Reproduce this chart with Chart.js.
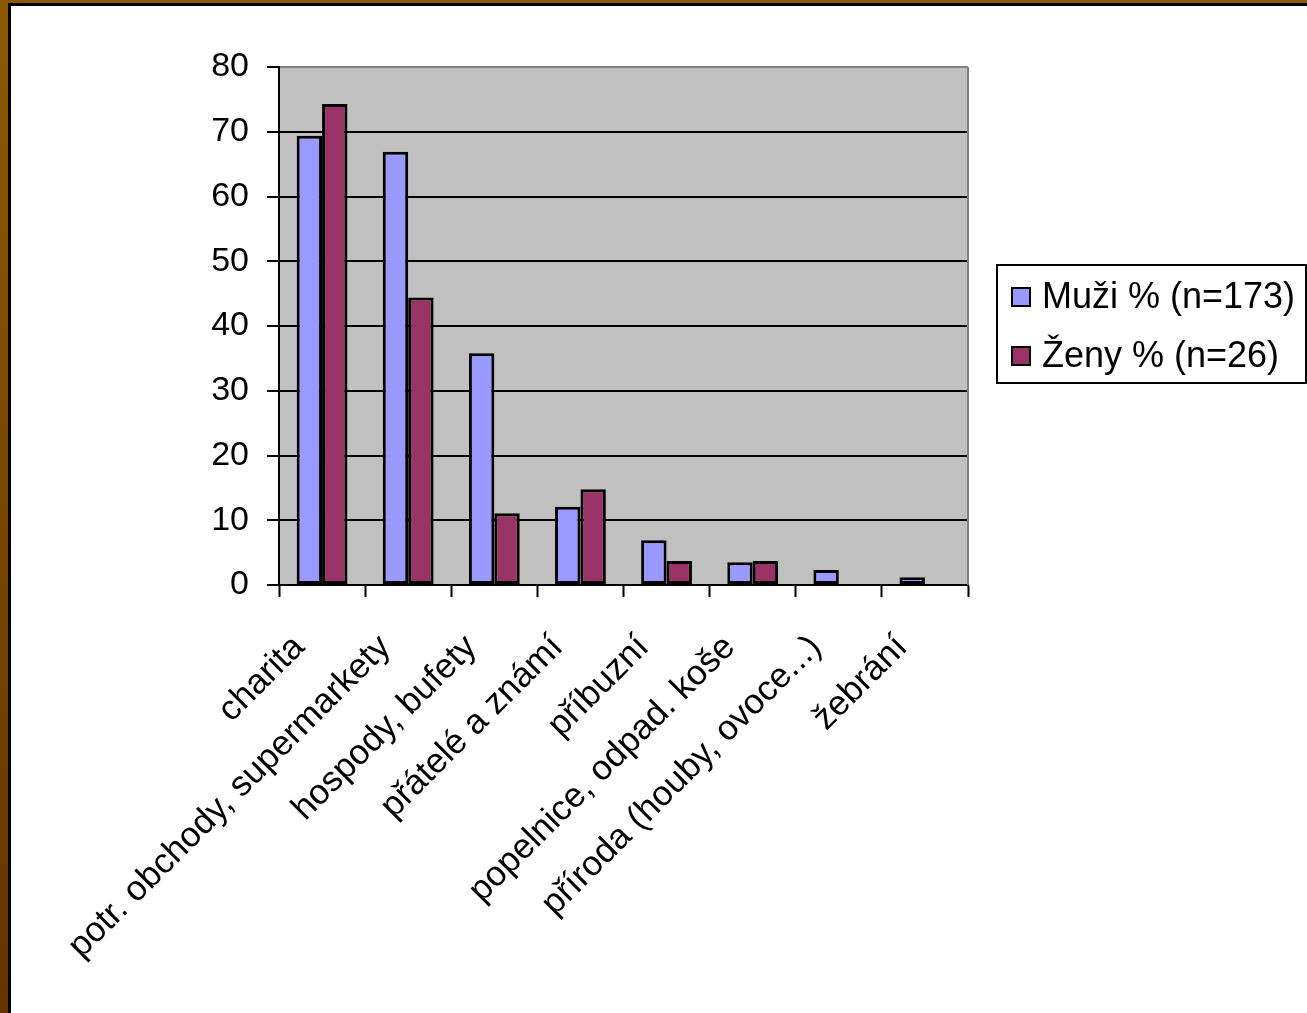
<!DOCTYPE html>
<html>
<head>
<meta charset="utf-8">
<script src="https://cdn.jsdelivr.net/npm/chart.js@4.4.0/dist/chart.umd.min.js"></script>
<style>
  html, body { margin: 0; padding: 0; width: 1307px; height: 1013px; overflow: hidden; }
  .frame { position: absolute; left: 0; top: 0; width: 1307px; height: 1013px;
    background: linear-gradient(#8b5a00, #663300); }
  .inner { position: absolute; left: 8px; top: 3px; right: 0; bottom: 0;
    background: #fff; border-left: 3px solid #000; border-top: 3px solid #000; }
  #chart { position: absolute; left: 0; top: 0; }
</style>
</head>
<body>
<div class="frame"><div class="inner"></div></div>
<canvas id="chart" width="1307" height="1013"></canvas>
<script>
const categories = [
  "charita",
  "potr. obchody, supermarkety",
  "hospody, bufety",
  "přátelé a známí",
  "příbuzní",
  "popelnice, odpad. koše",
  "příroda (houby, ovoce...)",
  "žebrání",
];
const muzi = [69.4, 66.9, 35.8, 12.1, 6.9, 3.5, 2.3, 1.2];
const zeny = [74.3, 44.4, 11.1, 14.8, 3.7, 3.7, 0, 0];
const yTicks = [0, 10, 20, 30, 40, 50, 60, 70, 80];

const FONT = "'Liberation Sans', Arial, sans-serif";

const plotBackground = {
  id: "plotBackground",
  beforeDraw(chart) {
    const { ctx, chartArea: a } = chart;
    ctx.save();
    ctx.fillStyle = "#c0c0c0";
    ctx.fillRect(a.left, a.top, a.right - a.left, a.bottom - a.top);
    ctx.restore();
  },
  afterDraw(chart) {
    const { ctx, chartArea: a } = chart;
    ctx.save();
    ctx.strokeStyle = "#808080";
    ctx.lineWidth = 2;
    ctx.beginPath();
    ctx.moveTo(a.right, a.top);
    ctx.lineTo(a.right, a.bottom);
    ctx.stroke();
    ctx.restore();
  },
};

const boxLegend = {
  id: "boxLegend",
  afterDraw(chart) {
    const ctx = chart.ctx;
    ctx.save();
    ctx.fillStyle = "#fff";
    ctx.fillRect(997, 265, 309, 118);
    ctx.strokeStyle = "#000";
    ctx.lineWidth = 2;
    ctx.strokeRect(997, 265, 309, 118);
    ctx.font = "36px " + FONT;
    ctx.textBaseline = "middle";
    chart.data.datasets.forEach((ds, i) => {
      const y = 297 + i * 59;
      ctx.fillStyle = ds.backgroundColor;
      ctx.fillRect(1012, y - 9, 18, 18);
      ctx.strokeRect(1012, y - 9, 18, 18);
      ctx.fillStyle = "#000";
      ctx.fillText(ds.label, 1042, y + 1);
    });
    ctx.restore();
  },
};

new Chart(document.getElementById("chart").getContext("2d"), {
  type: "bar",
  data: {
    labels: categories,
    datasets: [
      {
        label: "Muži % (n=173)",
        data: muzi,
        backgroundColor: "#9999ff",
        borderColor: "#000",
        borderWidth: 3,
        borderSkipped: false,
        barPercentage: 1,
        categoryPercentage: 0.59,
      },
      {
        label: "Ženy % (n=26)",
        data: zeny,
        backgroundColor: "#993366",
        borderColor: "#000",
        borderWidth: 3,
        borderSkipped: false,
        barPercentage: 1,
        categoryPercentage: 0.59,
      },
    ],
  },
  options: {
    responsive: false,
    animation: false,
    devicePixelRatio: 1,
    layout: { padding: { top: 67, right: 339, left: 0, bottom: 0 } },
    plugins: {
      legend: { display: false },
      tooltip: { enabled: false },
    },
    scales: {
      x: {
        afterFit: (s) => { s.height = 428; },
        grid: {
          drawOnChartArea: false,
          drawTicks: true,
          tickLength: 12,
          tickColor: "#000",
          tickWidth: 2,
          offset: true,
        },
        border: { color: "#000", width: 2 },
        ticks: {
          autoSkip: false,
          minRotation: 45,
          maxRotation: 45,
          padding: 30,
          labelOffset: -23,
          color: "#000",
          font: { family: FONT, size: 35 },
        },
      },
      y: {
        min: 0,
        max: 80,
        afterFit: (s) => { s.width = 279; },
        afterBuildTicks: (s) => { s.ticks = yTicks.map((v) => ({ value: v })); },
        grid: {
          color: (c) => (c.tick && c.tick.value === 80 ? "#808080" : "#000"),
          lineWidth: 2,
          tickLength: 12,
          tickColor: "#000",
          tickWidth: 2,
        },
        border: { color: "#000", width: 2 },
        ticks: {
          padding: 18,
          color: "#000",
          font: { family: FONT, size: 34 },
        },
      },
    },
  },
  plugins: [plotBackground, boxLegend],
});
</script>
</body>
</html>
